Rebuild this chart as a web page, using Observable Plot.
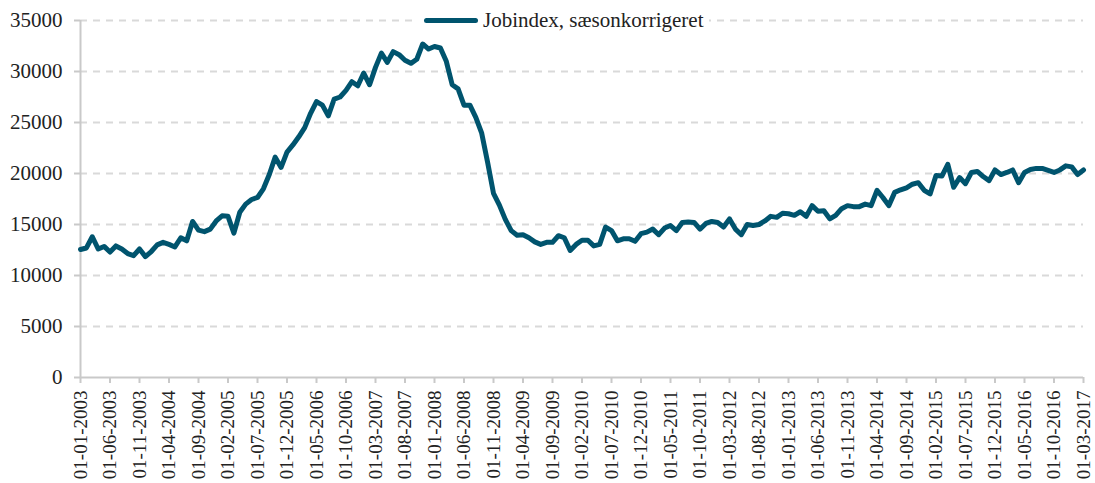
<!DOCTYPE html>
<html>
<head>
<meta charset="utf-8">
<script src="https://cdn.jsdelivr.net/npm/d3@7"></script>
<script src="https://cdn.jsdelivr.net/npm/@observablehq/plot@0.6"></script>
<style>
  html, body { margin: 0; padding: 0; background: #fff; }
  #wrap { position: relative; width: 1095px; height: 483px; overflow: hidden; }
  #legend { position: absolute; left: 418px; top: 7px; display: flex; align-items: center;
            background: #fff; padding: 0 6px 0 6px; height: 27px;
            font-family: "Liberation Serif", serif; font-size: 21px; color: #222; }
  #legend .swatch { display: inline-block; width: 54px; height: 5px; border-radius: 3px;
            background: #00546e; margin-right: 5px; }
</style>
</head>
<body>
<div id="wrap">
  <div id="chart"></div>
  <div id="legend"><span class="swatch"></span><span id="legend-text"></span></div>
</div>
<script>
const seriesName = "Jobindex, sæsonkorrigeret";
const startYear = 2003;
const values = [
  12550, 12700, 13800, 12600, 12850, 12300, 12900, 12600, 12150, 11950, 12600, 11850,
  12350, 13000, 13250, 13050, 12800, 13700, 13400, 15300, 14450, 14300, 14550, 15350,
  15850, 15800, 14150, 16200, 17000, 17450, 17650, 18500, 19900, 21600, 20600, 22100,
  22800, 23600, 24500, 25900, 27050, 26700, 25650, 27300, 27500, 28150, 29000, 28600,
  29850, 28700, 30400, 31800, 30900, 31950, 31650, 31100, 30800, 31200, 32700, 32200,
  32450, 32300, 31000, 28700, 28300, 26700, 26700, 25500, 23950, 21100, 18050, 16900,
  15500, 14400, 13950, 14000, 13700, 13300, 13050, 13250, 13250, 13900, 13700, 12450,
  13050, 13450, 13450, 12900, 13050, 14750, 14400, 13400, 13600, 13600, 13350, 14100,
  14250, 14550, 14000, 14650, 14900, 14400, 15200, 15250, 15200, 14550, 15100, 15300,
  15200, 14750, 15550, 14550, 14000, 15000, 14900, 15000, 15350, 15800, 15700, 16100,
  16050, 15900, 16250, 15800, 16850, 16300, 16350, 15550, 15900, 16550, 16850, 16750,
  16750, 17000, 16850, 18350, 17650, 16850, 18150, 18400, 18600, 18950, 19100, 18350,
  18000, 19800, 19750, 20900, 18650, 19600, 19000, 20100, 20200, 19700, 19300, 20350,
  19900, 20100, 20350, 19100, 20100, 20400, 20500, 20500, 20300, 20100, 20350, 20750,
  20650, 19900, 20350
];
const yTicks = [0, 5000, 10000, 15000, 20000, 25000, 30000, 35000];
const gridValues = [5000, 10000, 15000, 20000, 25000, 30000, 35000];
const xTickEvery = 5;

const dates = values.map((_, i) => {
  const y = startYear + Math.floor(i / 12);
  const m = (i % 12) + 1;
  return `01-${String(m).padStart(2, "0")}-${y}`;
});
const xTicks = dates.filter((_, i) => i % xTickEvery === 0);
const data = dates.map((d, i) => ({date: d, value: values[i]}));

const axisColor = "#c9c9c9";
const lineColor = "#00546e";

const chart = Plot.plot({
  width: 1095,
  height: 483,
  marginLeft: 80,
  marginRight: 12,
  marginTop: 20,
  marginBottom: 106,
  style: {fontFamily: "'Liberation Serif', serif", background: "#fff", color: "#222", overflow: "visible"},
  x: {type: "point", domain: dates, padding: 0},
  y: {domain: [0, 35000]},
  marks: [
    Plot.ruleY(gridValues, {stroke: "#d9d9d9", strokeWidth: 2, strokeDasharray: "7,6"}),
    Plot.ruleY([0], {stroke: axisColor, strokeWidth: 2}),
    Plot.ruleX([dates[0]], {y1: 0, y2: 35000, stroke: axisColor, strokeWidth: 2}),
    Plot.axisY({ticks: yTicks, tickSize: 6, tickPadding: 12, fontSize: 21, stroke: axisColor, strokeWidth: 2,
                tickFormat: d => String(d), label: null}),
    Plot.axisX({ticks: xTicks, tickSize: 6, tickPadding: 7, tickRotate: -90, fontSize: 19,
                stroke: axisColor, strokeWidth: 2, label: null}),
    Plot.line(data, {x: "date", y: "value", stroke: lineColor, strokeWidth: 5,
                     strokeLinejoin: "round", strokeLinecap: "round"})
  ]
});
document.getElementById("chart").append(chart);
document.getElementById("legend-text").textContent = seriesName;
</script>
</body>
</html>
